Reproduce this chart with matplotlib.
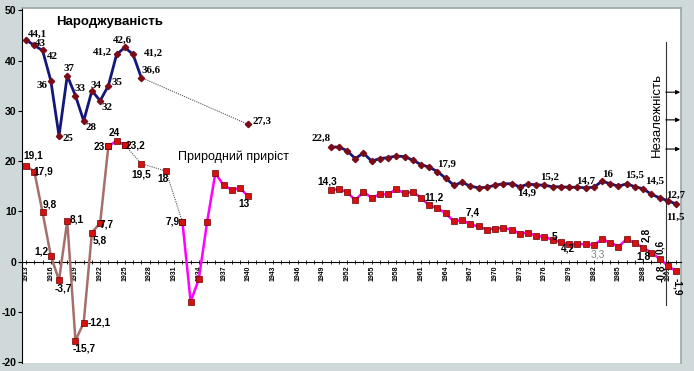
import numpy as np
import matplotlib
matplotlib.use("Agg")
import matplotlib.pyplot as plt

# --- data ---
birth_years_early = list(range(1913, 1928))
birth_early = [44.1, 43, 42, 36, 25, 37, 33, 28, 34, 32, 35, 41.2, 42.6, 41.2, 36.6]
birth_year_1940 = 1940
birth_1940 = 27.3
birth_years_late = list(range(1950, 1993))
birth_late = [22.8, 22.8, 22.1, 20.5, 21.6, 20.0, 20.5, 20.7, 21.0, 20.9,
              20.2, 19.3, 18.8, 17.9, 16.6, 15.2, 15.8, 15.0, 14.7, 14.8,
              15.2, 15.5, 15.5, 14.9, 15.4, 15.3, 15.2, 14.9, 14.9, 14.8,
              14.8, 14.7, 14.8, 16.0, 15.5, 15.0, 15.5, 14.9, 14.5, 13.4,
              12.7, 12.1, 11.5]

nat_years_a = list(range(1913, 1924))
nat_a = [19.1, 17.9, 9.8, 1.2, -3.7, 8.1, -15.7, -12.1, 5.8, 7.7, 23]
nat_years_b = [1923, 1924, 1925]
nat_b = [23, 24, 23.2]
nat_years_gap = [1925, 1927, 1930, 1932]
nat_gap = [23.2, 19.5, 18.0, 7.9]
nat_years_c = list(range(1932, 1941))
nat_c = [7.9, -8.0, -3.4, 7.9, 17.6, 15.2, 14.3, 14.6, 13.0]
nat_years_late = list(range(1950, 1993))
nat_late = [14.3, 14.4, 13.9, 12.2, 13.9, 12.7, 13.4, 13.4, 14.4, 13.6,
            13.9, 12.7, 11.2, 10.7, 9.6, 8.0, 8.3, 7.4, 7.0, 6.4,
            6.6, 6.7, 6.4, 5.6, 5.8, 5.1, 5.0, 4.3, 3.9, 3.5,
            3.5, 3.5, 3.3, 4.5, 3.8, 3.0, 4.5, 3.7, 2.8, 1.8,
            0.6, -0.8, -1.9]

# labels: (year, value, text, dx px, dy px)  dy positive = down
birth_labels = [
    (1913, 44.1, "44,1", 11, -6), (1914, 43, "43", 6, -2), (1915, 42, "42", 10, 6),
    (1916, 36, "36", -9, 5), (1917, 25, "25", 9, 3), (1918, 37, "37", 2, -7),
    (1919, 33, "33", 5, -7), (1920, 28, "28", 7, 7), (1921, 34, "34", 4, -5),
    (1922, 32, "32", 7, 7), (1923, 35, "35", 9, -3), (1924, 41.2, "41,2", -14, -2),
    (1925, 42.6, "42,6", -2, -7), (1926, 41.2, "41,2", 20, -1), (1927, 36.6, "36,6", 10, -7),
    (1940, 27.3, "27,3", 14, -3), (1950, 22.8, "22,8", -9, -9), (1963, 17.9, "17,9", 9, -7),
    (1976, 15.2, "15,2", 5, -8), (1973, 14.9, "14,9", 7, 7), (1981, 14.7, "14,7", 0, -6),
    (1983, 16.0, "16", 6, -7), (1986, 15.5, "15,5", 8, -8), (1988, 14.5, "14,5", 11, -7),
    (1990, 12.7, "12,7", 16, -3), (1992, 11.5, "11,5", -1, 13),
]
nat_labels = [
    (1913, 19.1, "19,1", 7, -10), (1914, 17.9, "17,9", 9, 0), (1915, 9.8, "9,8", 7, -8),
    (1916, 1.2, "1,2", -9, -4), (1917, -3.7, "-3,7", 4, 8), (1918, 8.1, "8,1", 9, -1),
    (1919, -15.7, "-15,7", 9, 8), (1920, -12.1, "-12,1", 15, 0), (1921, 5.8, "5,8", 8, 8),
    (1922, 7.7, "7,7", 7, 2), (1923, 23, "23", -9, 1), (1924, 24, "24", -2, -8),
    (1925, 23.2, "23,2", 11, 0), (1927, 19.5, "19,5", 0, 11), (1930, 18.0, "18", -3, 8),
    (1932, 7.9, "7,9", -10, 0), (1940, 13.0, "13", -4, 8), (1950, 14.3, "14,3", -3, -8),
    (1962, 11.2, "11,2", 5, -8), (1967, 7.4, "7,4", 2, -12), (1976, 5.0, "5", 10, 0),
    (1978, 3.9, "4,2", 7, 6), (1989, 1.8, "1,8", -8, 4),
]
nat_labels_rot = [
    (1988, 2.8, "2,8", 3, -13, 90), (1990, 0.6, "0,6", 1, -12, 90),
    (1991, -0.8, "-0,8", -7, 8, 90), (1992, -1.9, "-1,9", 1, 15, 270),
]

NAVY = "#14177a"
DIAMOND = "#7a0c18"
MAGENTA = "#ff00ff"
BROWN = "#a56f6b"
RED = "#d81010"
BG = "#cfd9d9"
serif_bold = dict(family=["Liberation Serif", "DejaVu Serif"], weight="bold", size=7.8)
narrow_bold = dict(family=["Liberation Sans Narrow", "Liberation Sans", "DejaVu Sans"],
                   weight="bold", size=7.3)

fig = plt.figure(figsize=(6.94, 3.71), dpi=100, facecolor=BG)
ax = fig.add_axes([22 / 694, 1 - 363 / 371, 659 / 694, 355 / 371])
ax.set_facecolor("white")
ax.set_xlim(1912.5, 1992.6)
ax.set_ylim(-20.14, 50.44)

# birth rate
ax.plot(birth_years_early, birth_early, color=NAVY, lw=2.0, zorder=3)
ax.plot(birth_years_late, birth_late, color=NAVY, lw=2.0, zorder=3)
ax.plot([birth_years_early[-1], birth_year_1940], [birth_early[-1], birth_1940],
        color="#555555", lw=0.8, ls=(0, (1, 1)), zorder=2)
for xs, ys in [(birth_years_early, birth_early), ([birth_year_1940], [birth_1940]),
               (birth_years_late, birth_late)]:
    ax.plot(xs, ys, ls="none", marker="D", ms=3.2, color=DIAMOND, zorder=4)

# natural increase
ax.plot(nat_years_a, nat_a, color=BROWN, lw=1.8, zorder=3)
ax.plot(nat_years_b, nat_b, color=MAGENTA, lw=1.8, zorder=3)
ax.plot(nat_years_gap, nat_gap, color="#555555", lw=0.8, ls=(0, (1, 1)), zorder=2)
ax.plot(nat_years_c, nat_c, color=MAGENTA, lw=1.8, zorder=3)
ax.plot(nat_years_late, nat_late, color=MAGENTA, lw=1.8, zorder=3)
for xs, ys in [(nat_years_a, nat_a), (nat_years_b, nat_b), (nat_years_gap, nat_gap),
               (nat_years_c, nat_c), (nat_years_late, nat_late)]:
    ax.plot(xs, ys, ls="none", marker="s", ms=4.3, color=RED, mec="#6a0000",
            mew=0.5, zorder=4)

for x, y, t, dx, dy in birth_labels:
    ax.annotate(t, (x, y), xytext=(dx * 0.72, -dy * 0.72), textcoords="offset points",
                ha="center", va="center", zorder=5, **serif_bold)
for x, y, t, dx, dy in nat_labels:
    ax.annotate(t, (x, y), xytext=(dx * 0.72, -dy * 0.72), textcoords="offset points",
                ha="center", va="center", zorder=5, **narrow_bold)
for x, y, t, dx, dy, rot in nat_labels_rot:
    ax.annotate(t, (x, y), xytext=(dx * 0.72, -dy * 0.72), textcoords="offset points",
                ha="center", va="center", rotation=rot, zorder=5, **narrow_bold)
ax.annotate("3,3", (1982, 3.3), xytext=(4 * 0.72, -9 * 0.72), textcoords="offset points",
            ha="center", va="center", color="#808080", size=7.3,
            family=["Liberation Sans", "DejaVu Sans"], zorder=5)

ax.text(1923.2, 47.6, "Народжуваність", ha="center", va="center", size=9.5,
        weight="bold", family=["Liberation Sans Narrow", "Liberation Sans", "DejaVu Sans"])
ax.text(1938.2, 20.9, "Природний приріст", ha="center", va="center", size=9,
        family=["Liberation Sans", "DejaVu Sans"])

# independence marker
ax.plot([1990.75, 1990.75], [43.7, -8.6], color="#333333", lw=0.8, zorder=2)
for yv in [33.7, 28.2, 22.4]:
    ax.annotate("", xy=(1992.5, yv), xytext=(1990.75, yv),
                arrowprops=dict(arrowstyle="-|>", color="black", lw=0.8,
                                mutation_scale=6, shrinkA=0, shrinkB=0))
ax.text(1989.7, 29.2, "Незалежність", rotation=90, ha="center", va="center",
        size=9.5, family=["Liberation Sans", "DejaVu Sans"])

# axes styling
ax.spines["bottom"].set_position(("data", 0))
ax.spines["left"].set_color("black")
for s in ["top", "right"]:
    ax.spines[s].set_color("#9aa5a5")
    ax.spines[s].set_linewidth(1.2)
ax.set_yticks(np.arange(-20, 51, 10))
ax.set_yticklabels([str(v) for v in range(-20, 51, 10)], weight="bold", size=7.5,
                   family=["Liberation Sans", "DejaVu Sans"])
ax.tick_params(axis="y", direction="out", length=3, pad=1)
ax.set_xticks(np.arange(1913, 1993, 3))
ax.set_xticklabels([str(v) for v in range(1913, 1993, 3)], rotation=90, size=5,
                   weight="bold", family=["Liberation Sans Narrow", "Liberation Sans", "DejaVu Sans"])
ax.set_xticks(np.arange(1913, 1993, 1), minor=True)
ax.tick_params(axis="x", which="both", direction="inout", length=3, pad=1, width=0.6)

fig.savefig("out.png", dpi=100, facecolor=BG)
